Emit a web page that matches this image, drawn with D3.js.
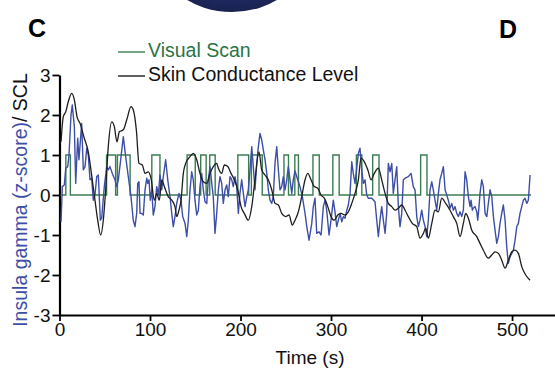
<!DOCTYPE html>
<html>
<head>
<meta charset="utf-8">
<script src="https://cdn.jsdelivr.net/npm/d3@7"></script>
<style>
body{margin:0;background:#fff;}
svg{display:block;font-family:"Liberation Sans",Arial,Helvetica,sans-serif;}
</style>
</head>
<body>
<svg width="555" height="377"></svg>
<script>
// ticks
var xTicks = [0,100,200,300,400,500];
var yTicks = [-3,-2,-1,0,1,2,3];

// visual scan: times where the level changes, and the level from that time on
var scanTime  = [1,7,12,52,62,64,78,102,111,141,150,156,162,166,172,197,209,212,224,248,253,260,264,280,287,302,309,328,334,346,353,399,406,521];
var scanLevel = [0,1,0,1,0,1,0,1,0,1,0,1,0,1,0,1,0,1,0,1,0,1,0,1,0,1,0,1,0,1,0,1,0,0];

// skin conductance level [time, value]
var sclSeries = [[1.7,1.33],[4.2,1.96],[6.9,2.08],[9.7,2.33],[13.5,2.54],[16.4,2.38],[19.3,1.96],[22.7,1.79],[27.4,1.42],[31.8,1.08],[36.2,0.38],[39.2,-0.13],[42.2,-0.63],[45.5,-1.0],[48.4,-0.63],[51,0.13],[53.9,1.21],[57.7,1.83],[60.6,1.71],[63.5,1.33],[66.1,1.58],[70.5,1.63],[74.3,1.88],[79,2.21],[81.5,2.13],[85,1.6],[87.8,0.79],[91.5,0.75],[94.5,0.54],[98.1,0.58],[101.1,0.42],[104.8,-0.13],[107.4,0.04],[110.3,-0.13],[112.9,0.38],[115.8,0.21],[120.2,-0.04],[124,-0.13],[127.6,-0.29],[129.5,-0.54],[132,-0.38],[134.3,-0.13],[136.8,0.54],[139.4,0.79],[144.2,0.96],[147.8,1.04],[151.6,0.88],[155.2,0.54],[158.9,0.33],[162.7,0.29],[166.3,0.54],[169.9,0.71],[173.7,0.79],[175.5,0.67],[179.2,0.54],[182.1,0.75],[185.9,0.71],[189.5,0.54],[193.1,0.38],[196.9,0.13],[200.6,-0.29],[204.2,-0.46],[208.6,-0.63],[212.4,-0.29],[216,0.38],[220.4,1.08],[223.4,0.63],[227.1,0.5],[230.7,0.38],[234.5,0.13],[238.1,-0.21],[241.8,-0.25],[245.5,-0.46],[249.9,-0.54],[253.6,-0.5],[257.2,-0.75],[260.2,-0.63],[263.9,-0.42],[267.6,-0.04],[271.3,0.38],[274.3,0.54],[277.9,0.38],[281.5,0.21],[285.3,0.17],[288.9,0],[292.6,-0.08],[296.4,-0.29],[300,-0.54],[303.6,-0.63],[307.4,-0.5],[311,-0.46],[315.5,-0.5],[319.1,-0.42],[322.9,-0.21],[326.5,0.04],[330.2,0.38],[333.1,0.92],[336.8,0.83],[340.6,0.63],[344.2,0.38],[347.8,0.54],[352.3,0.67],[356,0.38],[359.7,0.04],[363.3,-0.21],[367.1,-0.29],[370.7,-0.38],[374.4,-0.33],[378.1,-0.25],[381.8,-0.38],[385.4,-0.54],[389.8,-0.71],[394.7,-0.79],[398.3,-1.08],[402,-0.96],[404.6,-0.83],[407.5,-1.08],[411.3,-0.71],[414.9,-0.38],[418.6,-0.42],[422.3,-0.08],[426.7,-0.21],[431.5,-0.38],[435.1,-0.54],[438.9,-0.71],[442.5,-1.04],[446.2,-0.71],[448.8,-0.46],[451.7,-0.58],[455.5,-0.88],[461,-1.04],[464.6,-1.21],[468.3,-1.38],[473.8,-1.58],[477.6,-1.5],[481.2,-1.42],[484.9,-1.46],[488.6,-1.63],[492.3,-1.83],[495.9,-1.63],[499.7,-1.42],[503.3,-1.38],[507,-1.46],[510.7,-1.79],[515.1,-2.0],[519.9,-2.13]];

// insula gamma z-score [time, value]
var gammaSeries = [[1.7,-0.67],[3.1,0.21],[5.3,0.25],[6.9,0.67],[9.1,0.71],[10.5,1.0],[12.7,2.0],[14.1,2.25],[16.4,1.71],[17.9,0.29],[20.1,1.42],[21.5,0.88],[24.5,1.79],[26.3,0.63],[28.2,0.71],[30.1,1.17],[31.8,1.0],[33.7,0.38],[35.6,0.42],[37.3,-0.13],[39.2,0],[41.1,0.46],[42.9,0.5],[45.1,-0.63],[46.6,-0.58],[49.5,0.21],[52.2,0.71],[53.9,0.63],[55.8,0.71],[58.3,0.54],[61.3,0.38],[63.2,0.21],[65,0.38],[68,0.96],[70.5,1.46],[73.1,0.96],[76,0.46],[79,-0.04],[81.5,-0.63],[83.4,-0.79],
[85.3,-0.46],[86.4,0.29],[87.8,0.33],[89,-0.46],[90.8,-0.46],[92.6,-0.5],[94.5,0.13],[96.4,0.42],[97.5,0.29],[98.9,0.38],[100.3,-0.13],[101.9,0.13],[103.6,-0.5],[105.5,-0.29],[107.4,0.21],[109.2,0],[111,0.5],[112.9,0.13],[114.7,0.46],[117.3,0.88],[119.6,0.38],[122.1,-0.04],[124,-0.46],[125.7,-0.79],[127.6,-0.54],[129.5,-0.21],[132,0.04],[134.3,-0.13],[136.1,-0.54],[138.7,-0.71],[140.6,-1.04],[142.3,-0.63],[144.2,0.13],[146.1,0.58],[147.8,0.38],[149.7,-0.13],[151.6,-0.5],[153.4,-0.38],[155.2,0.21],[157.1,0.54],[158.9,0.13],[160.8,-0.17],[162.7,-0.21],[164.4,0.38],[166.3,0.71],[168.2,0.29],[169.9,-0.04],[171.8,-0.96],
[173.7,-0.46],[175.5,0.13],[177.3,0.46],[179.2,0.29],[181,-0.21],[182.9,0.13],[184.8,0.25],[186.5,-0.04],[188.4,0.46],[190.3,0.38],[192,0.21],[193.9,0.46],[195.8,0.21],[197.6,-0.46],[199.4,0.04],[201.3,0.38],[203.1,0.04],[205,-0.29],[206.9,-0.04],[208.6,0.13],[210.5,0.63],[212.4,1.21],[214.1,0.71],[216,0.13],[217.9,0.79],[219.7,1.21],[221.5,1.54],[223.4,1.38],[225.2,1.13],[227.1,0.88],[229,0.54],[230.7,0.13],[232.6,-0.13],[234.5,-0.21],[236.2,-0.04],[238.1,0.79],[240,1.21],[241.8,0.63],[243.6,0.13],[245.5,0.21],[247.3,0.46],[249.2,0.13],[251.1,0.38],[252.8,0.71],[254.7,0.38],[256.6,0.04],[258.3,0.38],[260.2,0.6],
[263.2,0.38],[265.7,0.21],[268.3,-0.04],[271.3,-0.46],[273.2,-0.79],[275.7,-1.13],[278.7,-0.71],[280.4,-0.29],[282.3,-0.08],[284.2,-0.96],[286.7,-0.92],[289,-1.0],[291.5,-0.29],[293.4,-0.13],[295.2,-0.38],[297.8,-1.0],[300,-0.63],[302.5,-0.13],[304.4,-0.42],[306.3,-0.79],[308.1,-0.63],[310,-0.46],[311.9,-0.67],[313.6,-0.54],[315.5,-0.58],[317.4,-0.38],[319.1,-0.25],[321,0.04],[322.9,0.83],[324.6,0.54],[326.5,0.29],[328.4,0.67],[330.2,1.04],[332,1.17],[333.9,0.63],[335.7,0.29],[337.6,0.38],[339.4,0],[341.2,-0.08],[345,-0.08],[348.6,-0.17],
[350.5,-0.63],[352.3,-1.04],[354.1,-0.63],[356,-0.29],[357.8,-0.63],[359.7,-0.96],[361.5,-0.46],[363.3,0.79],[365.2,0.58],[367.1,0.79],[368.8,0.04],[370.7,0.38],[372.6,0.71],[374.4,-0.29],[376.2,-0.79],[378.1,-0.46],[379.9,0.38],[381.8,0.42],[385.4,0.46],[388.4,0.54],[390.9,0.21],[392.8,0.13],[394.7,-0.54],[396.5,-0.79],[398.3,-0.63],[400.2,-0.38],[402,-0.63],[403.9,-0.79],[405.7,-1.04],[407.5,-0.63],[409.4,0.13],[411.3,0.33],[413,0.13],[414.9,-0.13],[416.8,-0.38],[418.6,0.04],[420.4,0.38],[422.3,0.54],[424.1,0.71],[426,0.13],[427.8,0],[429.6,-0.13],[431.5,-0.33],[433.4,-0.21],[435.1,-0.38],[437,-0.29],
[438.9,-0.46],[440.7,-0.54],[442.5,-0.42],[444.4,-0.54],[446.2,-0.38],[448.1,0.58],[449.9,0.38],[451.7,-0.04],[453.6,-0.29],[454.7,-0.13],[456.1,-0.38],[457.2,-0.33],[459.1,-0.29],[461,-0.42],[462.1,-0.63],[463.5,-0.29],[464.6,0.04],[466.5,0.38],[468.3,0.21],[470.2,-0.46],[472.1,-0.54],[473.8,-0.21],[475.7,0.13],[477.6,-0.04],[479.4,-0.54],[481.2,-0.88],[483.1,-1.21],[484.9,-1.04],[486.7,-0.71],[488.6,-0.46],[490.4,-0.25],[492.3,-0.63],[494.1,-1.29],[495.9,-1.71],[497.8,-1.54],[499.7,-1.46],[501.5,-1.38],[503.3,-1.13],[505.2,-0.79],[507,-0.71],[508.8,-0.46],[510.7,-0.29],[512.5,-0.13],[514.4,-0.08],[516.2,-0.21],[518,-0.13],[519.9,0.5]];

var green = "#3b7d52";
var blue = "#3d4ea6";
var black = "#1e1e1e";

var svg = d3.select("svg");

// piece of the neighbouring panel peeking in at the top
var defs = svg.append("defs");
var grad = defs.append("radialGradient").attr("id","blob")
	.attr("cx","50%").attr("cy","30%").attr("r","70%");
grad.append("stop").attr("offset","0%").attr("stop-color","#34458f");
grad.append("stop").attr("offset","80%").attr("stop-color","#1f2a63");
grad.append("stop").attr("offset","100%").attr("stop-color","#1a2250");
svg.append("ellipse")
	.attr("cx", 232).attr("cy", -45)
	.attr("rx", 73).attr("ry", 57)
	.attr("fill", "url(#blob)");

// panel letters
svg.append("text").attr("x", 37).attr("y", 37).attr("text-anchor","middle")
	.attr("font-size", 25).attr("font-weight","bold").text("C");
svg.append("text").attr("x", 508).attr("y", 38).attr("text-anchor","middle")
	.attr("font-size", 25).attr("font-weight","bold").text("D");

var x = d3.scaleLinear().domain([0, 548]).range([59.5, 555.5]);
var y = d3.scaleLinear().domain([-3, 3]).range([315, 75]);

// axes
var gx = svg.append("g").attr("transform","translate(0,315)")
	.call(d3.axisBottom(x).tickValues(xTicks).tickSize(6).tickPadding(2).tickSizeOuter(0).tickFormat(d => d));
var gy = svg.append("g").attr("transform","translate(59.5,0)")
	.call(d3.axisLeft(y).tickValues(yTicks).tickSize(7).tickPadding(2).tickSizeOuter(0).tickFormat(d => String(d)));

[gx, gy].forEach(g => {
	g.select(".domain").attr("stroke", "#000").attr("stroke-width", 2.2);
	g.selectAll(".tick line").attr("stroke", "#000").attr("stroke-width", 1.8);
	g.selectAll(".tick text").attr("fill", "#111").attr("font-size", 19)
		.attr("font-family", '"Liberation Sans",Arial,Helvetica,sans-serif');
});
gy.selectAll(".tick text").attr("dy", "0.36em");

svg.append("text").attr("x", 310).attr("y", 364).attr("text-anchor","middle")
	.attr("font-size", 19).attr("fill", "#111").text("Time (s)");

var ylab = svg.append("text").attr("transform","translate(27,200) rotate(-90)")
	.attr("text-anchor","middle").attr("font-size", 19.5);
ylab.append("tspan").attr("fill", blue).text("Insula gamma (z-score)");
ylab.append("tspan").attr("fill", "#111").text("/ SCL");

// series
var scanPts = scanTime.map((t, i) => [t, scanLevel[i]]);
svg.append("path").datum(scanPts)
	.attr("fill","none").attr("stroke", green).attr("stroke-width", 1.4)
	.attr("d", d3.line().x(d => x(d[0])).y(d => y(d[1])).curve(d3.curveStepAfter));

svg.append("path").datum(gammaSeries)
	.attr("fill","none").attr("stroke", blue).attr("stroke-width", 1.4)
	.attr("stroke-linejoin","round")
	.attr("d", d3.line().x(d => x(d[0])).y(d => y(d[1])));

svg.append("path").datum(sclSeries)
	.attr("fill","none").attr("stroke", black).attr("stroke-width", 1.3)
	.attr("stroke-linejoin","round")
	.attr("d", d3.line().x(d => x(d[0])).y(d => y(d[1])).curve(d3.curveMonotoneX));

// legend
var legend = [
	{name: "Visual Scan", color: green, text: "#2b7446", yy: 50},
	{name: "Skin Conductance Level", color: black, text: "#111", yy: 74}
];
var lg = svg.append("g").selectAll("g").data(legend).join("g")
	.attr("transform", d => "translate(0," + d.yy + ")");
lg.append("line").attr("x1", 118).attr("x2", 145).attr("y1", 2).attr("y2", 2)
	.attr("stroke", d => d.color).attr("stroke-width", 1.4);
lg.append("text").attr("x", 148).attr("y", 7).attr("font-size", 19.5)
	.attr("fill", d => d.text).text(d => d.name);
</script>
</body>
</html>
